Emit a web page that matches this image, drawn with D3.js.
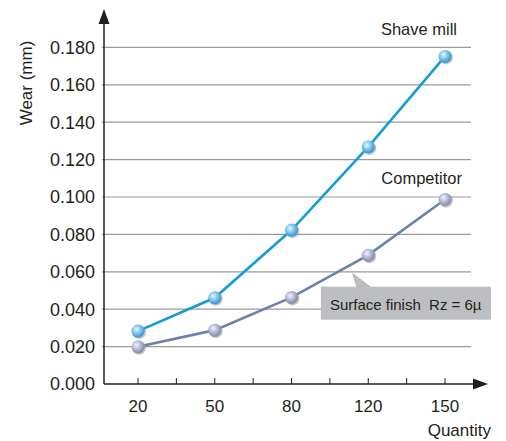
<!DOCTYPE html>
<html>
<head>
<meta charset="utf-8">
<script src="https://cdn.jsdelivr.net/npm/d3@7"></script>
<style>
  body { margin: 0; background: #fff; }
  svg { display: block; font-family: "Liberation Sans", Arial, sans-serif; }
</style>
</head>
<body>
<div id="chart"></div>
<script>
// data
const quantities = ["20", "50", "80", "120", "150"];
const shaveMill  = [0.0283, 0.0461, 0.0823, 0.1268, 0.1752];
const competitor = [0.0199, 0.0288, 0.0463, 0.0689, 0.0987];
const yTicks = [0, 0.02, 0.04, 0.06, 0.08, 0.10, 0.12, 0.14, 0.16, 0.18];

const width = 506, height = 441;
const ink = "#231f20";

const svg = d3.select("#chart")
              .append("svg")
              .attr("width", width)
              .attr("height", height);

const defs = svg.append("defs");

const x = d3.scalePoint().domain(quantities).range([138, 445]);
const y = d3.scaleLinear().domain([0, 0.18]).range([384, 47.4]);
const x0 = 104, xEnd = 471;

// sphere gradients for the markers
function sphere(id, light, mid, dark) {
    const g = defs.append("radialGradient")
                  .attr("id", id)
                  .attr("cx", "42%").attr("cy", "40%").attr("r", "60%")
                  .attr("fx", "38%").attr("fy", "35%");
    g.append("stop").attr("offset", "0%").attr("stop-color", light);
    g.append("stop").attr("offset", "45%").attr("stop-color", mid);
    g.append("stop").attr("offset", "100%").attr("stop-color", dark);
}
sphere("ballBlue", "#eef8ff", "#8fcdf0", "#2f95d0");
sphere("ballGrey", "#f4f5fa", "#bcc3da", "#7f88aa");

// gridlines
svg.append("g")
   .selectAll("line")
   .data(yTicks.filter(d => d > 0))
   .join("line")
   .attr("x1", x0 - 2).attr("x2", xEnd)
   .attr("y1", d => y(d)).attr("y2", d => y(d))
   .attr("stroke", "#9a9a9a")
   .attr("stroke-width", 1.2);

// y tick labels
svg.append("g")
   .selectAll("text")
   .data(yTicks)
   .join("text")
   .attr("x", 95)
   .attr("y", d => y(d))
   .attr("dy", "0.36em")
   .attr("text-anchor", "end")
   .attr("font-size", 18)
   .attr("fill", ink)
   .text(d => d3.format(".3f")(d));

// axes with arrowheads
const axisY = y(0);
svg.append("line")
   .attr("x1", x0).attr("x2", x0)
   .attr("y1", axisY).attr("y2", 22)
   .attr("stroke", ink).attr("stroke-width", 1.5);
svg.append("path")
   .attr("d", `M${x0},9 L${x0 + 5.5},24 L${x0 - 5.5},24 Z`)
   .attr("fill", ink);

svg.append("line")
   .attr("x1", x0).attr("x2", 475)
   .attr("y1", axisY).attr("y2", axisY)
   .attr("stroke", ink).attr("stroke-width", 1.5);
svg.append("path")
   .attr("d", `M488,${axisY} L473,${axisY - 5.5} L473,${axisY + 5.5} Z`)
   .attr("fill", ink);

// x ticks: one at each category and one half way between
const half = x.step() / 2;
const tickPos = [];
quantities.forEach((q, i) => {
    tickPos.push(x(q));
    if (i < quantities.length - 1) tickPos.push(x(q) + half);
});
svg.append("g")
   .selectAll("line")
   .data(tickPos)
   .join("line")
   .attr("x1", d => d).attr("x2", d => d)
   .attr("y1", axisY - 6).attr("y2", axisY)
   .attr("stroke", ink).attr("stroke-width", 1);

svg.append("g")
   .selectAll("text")
   .data(quantities)
   .join("text")
   .attr("x", d => x(d))
   .attr("y", 412)
   .attr("text-anchor", "middle")
   .attr("font-size", 17)
   .attr("fill", ink)
   .text(d => d);

// axis titles
svg.append("text")
   .attr("transform", "translate(32,83) rotate(-90)")
   .attr("text-anchor", "middle")
   .attr("font-size", 17)
   .attr("fill", ink)
   .text("Wear (mm)");

svg.append("text")
   .attr("x", 491).attr("y", 436)
   .attr("text-anchor", "end")
   .attr("font-size", 17)
   .attr("fill", ink)
   .text("Quantity");

// callout for the surface finish
const tip = [x("80") + 0.8 * x.step(), y(0.059)];
svg.append("path")
   .attr("d", `M${tip[0]},${tip[1]} L${tip[0] + 4},${tip[1] + 13} L${tip[0] + 17},${tip[1] + 13} Z`)
   .attr("fill", "#bdbec1")
   .attr("stroke", "#a5a6a9")
   .attr("stroke-width", 0.8);
svg.append("rect")
   .attr("x", tip[0] - 32).attr("y", tip[1] + 13)
   .attr("width", 170).attr("height", 33)
   .attr("fill", "#bdbec1");
svg.append("text")
   .attr("x", tip[0] - 23).attr("y", tip[1] + 36)
   .attr("font-size", 15)
   .attr("fill", ink)
   .attr("xml:space", "preserve")
   .style("white-space", "pre")
   .text("Surface finish  Rz = 6\u00b5");

// series lines and markers
const series = [
    { name: "Competitor", values: competitor, color: "#6b82ad", ball: "ballGrey" },
    { name: "Shave mill", values: shaveMill,  color: "#149cd8", ball: "ballBlue" }
];

const line = d3.line()
               .x((d, i) => x(quantities[i]))
               .y(d => y(d));

series.forEach(s => {
    svg.append("path")
       .datum(s.values)
       .attr("d", line)
       .attr("fill", "none")
       .attr("stroke", s.color)
       .attr("stroke-width", 2.6);

    const pts = svg.append("g");
    // soft shadow under each ball
    pts.selectAll(".shadow")
       .data(s.values)
       .join("circle")
       .attr("class", "shadow")
       .attr("cx", (d, i) => x(quantities[i]) + 1)
       .attr("cy", d => y(d) + 1)
       .attr("r", 7)
       .attr("fill", "#9a9ca3")
       .attr("opacity", 0.6);
    pts.selectAll(".ball")
       .data(s.values)
       .join("circle")
       .attr("class", "ball")
       .attr("cx", (d, i) => x(quantities[i]))
       .attr("cy", d => y(d))
       .attr("r", 6.5)
       .attr("fill", `url(#${s.ball})`);
});

// series labels
svg.append("text")
   .attr("x", 457).attr("y", 35)
   .attr("text-anchor", "end")
   .attr("font-size", 16.5)
   .attr("fill", ink)
   .text("Shave mill");

svg.append("text")
   .attr("x", 462).attr("y", 184)
   .attr("text-anchor", "end")
   .attr("font-size", 16.5)
   .attr("fill", ink)
   .text("Competitor");
</script>
</body>
</html>
